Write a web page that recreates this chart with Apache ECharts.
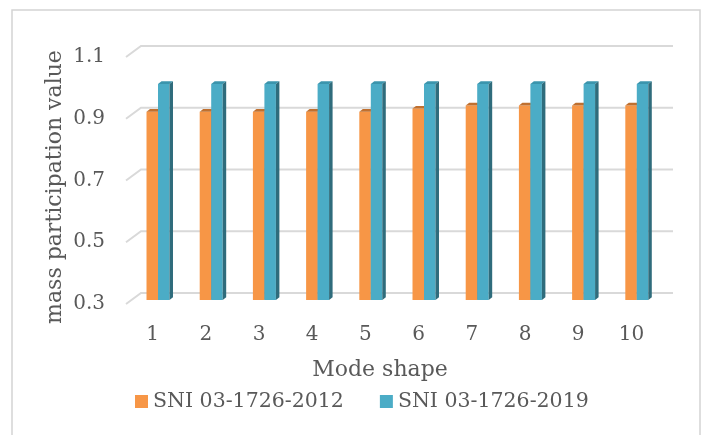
<!DOCTYPE html>
<html>
<head>
<meta charset="utf-8">
<script src="https://cdn.jsdelivr.net/npm/echarts@6/dist/echarts.min.js"></script>
<style>
  html, body { margin: 0; padding: 0; background: #fff; }
  #chart { width: 705px; height: 435px; }
</style>
</head>
<body>
<div id="chart"></div>
<script>
const categories = ['1', '2', '3', '4', '5', '6', '7', '8', '9', '10']
const sni2012 = [0.91, 0.91, 0.91, 0.91, 0.91, 0.92, 0.93, 0.93, 0.93, 0.93]
const sni2019 = [1.0, 1.0, 1.0, 1.0, 1.0, 1.0, 1.0, 1.0, 1.0, 1.0]
const yTicks = [0.3, 0.5, 0.7, 0.9, 1.1]
const seriesNames = ['SNI 03-1726-2012', 'SNI 03-1726-2019']

const FONT = 'DejaVu Serif'
const TEXT = '#595959'
const Y_MIN = 0.3
// floor depth (front edge -> back wall) and bar offsets inside it
const DEPTH = [15, -11]
const BAR_POS = 0.36
const BAR_DEPTH = [3.5, -2.7]

function barItem(slot, face, topColor, sideColor) {
  return function (params, api) {
    const i = api.value(0), v = api.value(1)
    const w = api.size([1, 0])[0] * 0.216
    const pTop = api.coord([i, v])
    const pBase = api.coord([i, Y_MIN])
    const x0 = pTop[0] - w + slot * w + DEPTH[0] * BAR_POS
    const yT = pTop[1] + DEPTH[1] * BAR_POS
    const yB = pBase[1] + DEPTH[1] * BAR_POS
    const bx = BAR_DEPTH[0], by = BAR_DEPTH[1]
    return {
      type: 'group',
      children: [
        { type: 'rect', shape: { x: x0, y: yT, width: w, height: yB - yT }, style: { fill: face } },
        { type: 'polygon', shape: { points: [[x0, yT], [x0 + w, yT], [x0 + w + bx, yT + by], [x0 + bx, yT + by]] }, style: { fill: topColor } },
        { type: 'polygon', shape: { points: [[x0 + w, yT], [x0 + w + bx, yT + by], [x0 + w + bx, yB + by], [x0 + w, yB]] }, style: { fill: sideColor } }
      ]
    }
  }
}

function gridItem(params, api) {
  const cs = params.coordSys
  const y = api.coord([0, api.value(1)])[1]
  return {
    type: 'polyline',
    shape: { points: [[cs.x, y], [cs.x + DEPTH[0], y + DEPTH[1]], [cs.x + cs.width + DEPTH[0], y + DEPTH[1]]] },
    style: { stroke: '#d9d9d9', lineWidth: 2, fill: null }
  }
}

const chart = echarts.init(document.getElementById('chart'))
chart.setOption({
  animation: false,
  grid: { left: 126, right: 47, top: 57, bottom: 131 },
  legend: {
    data: seriesNames.map(n => ({ name: n, icon: 'rect' })),
    left: 135, top: 391, padding: 0,
    itemWidth: 13, itemHeight: 13, itemGap: 36,
    textStyle: { fontFamily: FONT, fontSize: 20.5, color: TEXT }
  },
  xAxis: {
    type: 'category', data: categories,
    axisLine: { show: false }, axisTick: { show: false },
    axisLabel: { fontFamily: FONT, fontSize: 20, color: TEXT, margin: 21 }
  },
  yAxis: {
    type: 'value', min: 0.3, max: 1.1,
    axisLine: { show: false }, axisTick: { show: false },
    splitLine: { show: false },
    axisLabel: {
      customValues: yTicks,
      formatter: v => v.toFixed(1),
      fontFamily: FONT, fontSize: 20, color: TEXT, margin: 21
    }
  },
  graphic: [
    { type: 'rect', shape: { x: 12, y: 10, width: 688, height: 440 }, style: { fill: null, stroke: '#d4d4d4', lineWidth: 1.5 }, silent: true },
    { type: 'text', x: 55, y: 187, rotation: Math.PI / 2, style: { text: 'mass participation value', font: '22px "' + FONT + '"', fill: TEXT, align: 'center', verticalAlign: 'middle' } },
    { type: 'text', x: 380, y: 370, style: { text: 'Mode shape', font: '22px "' + FONT + '"', fill: TEXT, align: 'center', verticalAlign: 'middle' } }
  ],
  series: [
    {
      type: 'custom', name: 'grid', renderItem: gridItem, z: 1, silent: true,
      data: yTicks.map(v => [0, v])
    },
    {
      type: 'custom', name: seriesNames[0], z: 2,
      itemStyle: { color: '#f79646' },
      renderItem: barItem(0, '#f79646', '#c0702f', '#b5662a'),
      data: sni2012.map((v, i) => [i, v])
    },
    {
      type: 'custom', name: seriesNames[1], z: 3,
      itemStyle: { color: '#4bacc6' },
      renderItem: barItem(1, '#4bacc6', '#3b95ad', '#2f6c7c'),
      data: sni2019.map((v, i) => [i, v])
    }
  ]
})
</script>
</body>
</html>
